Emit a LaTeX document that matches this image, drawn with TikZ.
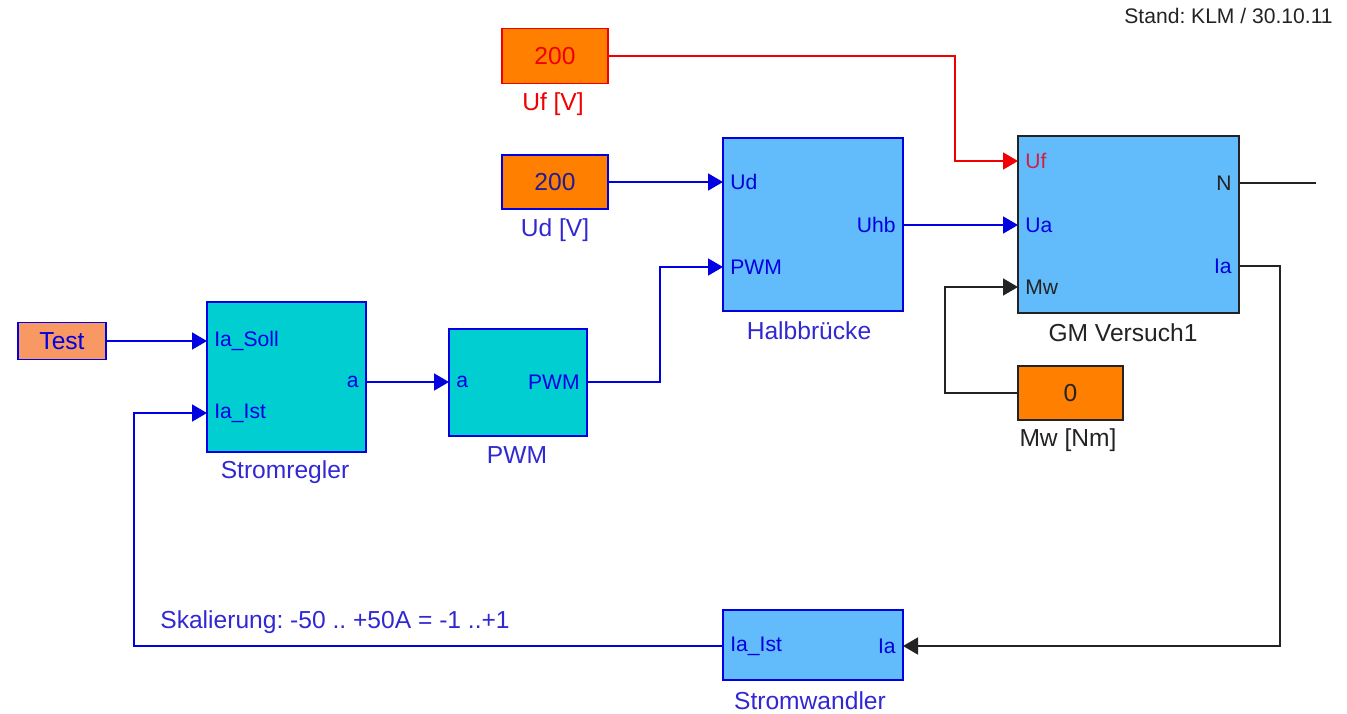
\documentclass[tikz,border=0pt]{standalone}
\usepackage{fontspec}
\setmainfont{Liberation Sans}
\usetikzlibrary{arrows.meta}
\frenchspacing

\definecolor{simcyan}{RGB}{0,206,209}
\definecolor{simlight}{RGB}{98,187,251}
\definecolor{simorange}{RGB}{255,128,0}
\definecolor{simsalmon}{RGB}{248,152,98}
\definecolor{simblue}{RGB}{0,0,225}
\definecolor{simred}{RGB}{240,0,0}
\definecolor{simtext}{RGB}{50,40,210}
\definecolor{simdark}{RGB}{35,35,35}
\definecolor{simcrimson}{RGB}{210,30,70}

\tikzset{
  block/.style={draw, line width=1.1pt, inner sep=0pt},
  port/.style={font=\fontsize{12}{14}\selectfont, inner ysep=0pt, inner xsep=0.14cm},
  lbl/.style={font=\fontsize{14}{16}\selectfont, inner sep=0pt},
  wire/.style={line width=0.9pt},
}

\begin{document}
\begin{tikzpicture}[x=0.02cm, y=-0.02cm, >={Triangle[length=0.3cm, width=0.34cm]}]
    \useasboundingbox (0,0) rectangle (1347,714);

    % Sollwert
    \node[block, simblue, fill=simsalmon, minimum width=1.76cm, minimum height=0.74cm, lbl, text=simblue] (test) at (62,341) {Test};

    % Stromregler
    \node[block, simblue, fill=simcyan, minimum width=3.18cm, minimum height=3cm] (sr) at (286.5,377) {};
    \node[port, anchor=west, text=simblue] (srSoll) at (207,341) {Ia\_Soll};
    \node[port, anchor=west, text=simblue] (srIst) at (207,413) {Ia\_Ist};
    \node[port, anchor=east, text=simblue] (srA) at (366,382) {a};
    \node[lbl, text=simtext] (srName) at (285,472) {Stromregler};

    % PWM
    \node[block, simblue, fill=simcyan, minimum width=2.76cm, minimum height=2.14cm] (pwm) at (518,382.5) {};
    \node[port, anchor=west, text=simblue] (pwmA) at (449,382) {a};
    \node[port, anchor=east, text=simblue] (pwmOut) at (587,382) {PWM};
    \node[lbl, text=simtext] (pwmName) at (517,455) {PWM};

    % Konstanten
    \node[block, simred, fill=simorange, minimum width=2.12cm, minimum height=1.1cm, lbl, text=simred] (uf) at (555,56) {200};
    \node[lbl, text=simred] (ufName) at (553,104) {Uf [V]};
    \node[block, simblue, fill=simorange, minimum width=2.12cm, minimum height=1.08cm, lbl, text=simtext!70!black] (ud) at (555,182) {200};
    \node[lbl, text=simtext] (udName) at (555,230) {Ud [V]};
    \node[block, simdark, fill=simorange, minimum width=2.1cm, minimum height=1.08cm, lbl, text=simdark] (mw) at (1070.5,393) {0};
    \node[lbl, text=simdark] (mwName) at (1068,440) {Mw [Nm]};

    % Halbbruecke
    \node[block, simblue, fill=simlight, minimum width=3.6cm, minimum height=3.46cm] (hb) at (813,224.5) {};
    \node[port, anchor=west, text=simblue] (hbUd) at (723,182) {Ud};
    \node[port, anchor=west, text=simblue] (hbPWM) at (723,267) {PWM};
    \node[port, anchor=east, text=simblue] (hbUhb) at (903,225) {Uhb};
    \node[lbl, text=simtext] (hbName) at (809,331) {Halbbrücke};

    % Gleichstrommaschine
    \node[block, simdark, fill=simlight, minimum width=4.42cm, minimum height=3.54cm] (gm) at (1128.5,224.5) {};
    \node[port, anchor=west, text=simcrimson] (gmUf) at (1018,161) {Uf};
    \node[port, anchor=west, text=simblue] (gmUa) at (1018,225) {Ua};
    \node[port, anchor=west, text=simdark] (gmMw) at (1018,287) {Mw};
    \node[port, anchor=east, text=simdark] (gmN) at (1239,183) {N};
    \node[port, anchor=east, text=simblue] (gmIa) at (1239,266) {Ia};
    \node[lbl, text=simdark] (gmName) at (1123,333) {GM Versuch1};

    % Stromwandler
    \node[block, simblue, fill=simlight, minimum width=3.6cm, minimum height=1.4cm] (sw) at (813,645) {};
    \node[port, anchor=west, text=simblue] (swIst) at (723,646) {Ia\_Ist};
    \node[port, anchor=east, text=simblue] (swIa) at (903,646) {Ia};
    \node[lbl, text=simtext] (swName) at (810,701) {Stromwandler};

    % Knickpunkte
    \coordinate (pwmKnick) at (660,382);
    \coordinate (ufKnick) at (955,56);
    \coordinate (mwKnick) at (945,393);
    \coordinate (iaKnick) at (1280,266);
    \coordinate (fbKnick) at (134,646);
    \coordinate (nEnd) at (1316,183);

    % Verbindungen
    \draw[wire, simblue, ->] (test) -- (srSoll.west);
    \draw[wire, simblue, ->] (srA.east) -- (pwmA.west);
    \draw[wire, simblue, ->] (pwmOut.east) -- (pwmKnick) |- (hbPWM.west);
    \draw[wire, simblue, ->] (ud) -- (hbUd.west);
    \draw[wire, simblue, ->] (hbUhb.east) -- (gmUa.west);
    \draw[wire, simred, ->] (uf) -- (ufKnick) |- (gmUf.west);
    \draw[wire, simdark, ->] (mw) -- (mwKnick) |- (gmMw.west);
    \draw[wire, simdark] (gmN.east) -- (nEnd);
    \draw[wire, simdark, ->] (gmIa.east) -- (iaKnick) |- (swIa.east);
    \draw[wire, simblue, ->] (swIst.west) -- (fbKnick) |- (srIst.west);

    % Texte
    \node[lbl, text=simtext, anchor=west] (skal) at (160,622) {Skalierung: -50 .. +50A = -1 ..+1};
    \node[font=\fontsize{12}{14}\selectfont, inner sep=0pt, text=simdark, anchor=east] (stand) at (1333,16) {Stand: KLM / 30.10.11};
  \end{tikzpicture}
\end{document}
